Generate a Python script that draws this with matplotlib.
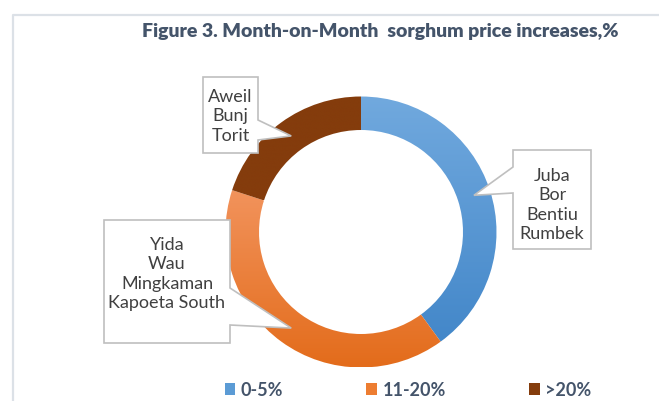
import numpy as np
import matplotlib
matplotlib.use("Agg")
import matplotlib.pyplot as plt
from matplotlib.patches import Polygon, Patch
from matplotlib.lines import Line2D
from matplotlib.colors import LinearSegmentedColormap

# data
categories = ["0-5%", "11-20%", ">20%"]
shares = [40, 40, 20]
markets = [["Juba", "Bor", "Bentiu", "Rumbek"],
           ["Yida", "Wau", "Mingkaman", "Kapoeta South"],
           ["Aweil", "Bunj", "Torit"]]

# top / bottom colours of each slice gradient
grad_colors = [("#71A9DE", "#4387C9"), ("#F2935C", "#E36C1B"), ("#843C0C", "#843C0C")]
legend_colors = ["#5B9BD5", "#ED7D31", "#843C0C"]

W, H = 659, 401
plt.rcParams['font.family'] = ['Lato', 'DejaVu Sans']

fig = plt.figure(figsize=(W / 100, H / 100), dpi=100)
fig.patch.set_facecolor("white")
ax = fig.add_axes([0, 0, 1, 1])
ax.set_xlim(0, W)
ax.set_ylim(0, H)
ax.axis("off")

def fy(y):
    # pixel row (from top) -> axes y
    return H - y

# chart area border (cropped at right and bottom)
ax.add_line(Line2D([12.5, 12.5, W], [0, fy(14.5), fy(14.5)], color="#DCE1E7", lw=1.6))

cx, cy, R = 361, fy(232), 135.5
ring = 33.5
wedges, _ = ax.pie(shares, radius=R, center=(cx, cy), startangle=90, counterclock=False,
                   wedgeprops=dict(width=ring, linewidth=0), frame=True)
ax.set_xlim(0, W)
ax.set_ylim(0, H)
ax.set_aspect("auto")

# vertical gradient on each slice, clipped to the wedge
for w, (c_top, c_bot) in zip(wedges, grad_colors):
    w.set_facecolor("none")
    ext = w.get_path().get_extents()
    cmap = LinearSegmentedColormap.from_list("g", [c_bot, c_top])
    grad = np.linspace(0, 1, 256).reshape(-1, 1)
    im = ax.imshow(grad, cmap=cmap, origin="lower", aspect="auto",
                   extent=(ext.x0, ext.x1, ext.y0, ext.y1), zorder=1)
    im.set_clip_path(w)

# callout boxes: (x0, y0, x1, y1, base0, base1) in pixels from top-left
boxes = [(513, 150, 591, 249, 167, 193),
         (104, 220, 230, 343, 288, 325),
         (203, 77, 258, 153, 120, 140)]
text_cy = [205, 274, 116.5]

for w, names, (x0, y0, x1, y1, b0, b1), tcy in zip(wedges, markets, boxes, text_cy):
    mid = np.deg2rad((w.theta1 + w.theta2) / 2)
    rm = R - ring / 2
    tx, ty = cx + rm * np.cos(mid), cy + rm * np.sin(mid)
    if tx > x1:
        pts = [(x0, y0), (x1, y0), (x1, b0), None, (x1, b1), (x1, y1), (x0, y1)]
    else:
        pts = [(x0, y0), (x1, y0), (x1, y1), (x0, y1), (x0, b1), None, (x0, b0)]
    verts = [(tx, ty) if p is None else (p[0], fy(p[1])) for p in pts]
    ax.add_patch(Polygon(verts, closed=True, facecolor="white", edgecolor="#BFBFBF",
                         lw=1.2, zorder=3))
    ax.text((x0 + x1) / 2, fy(tcy), "\n".join(names), ha="center", va="center",
            fontsize=13, color="#404040", linespacing=1.25, zorder=4)

fig.text(380 / W, 1 - 31.5 / H, "Figure 3. Month-on-Month  sorghum price increases,%",
         ha="center", va="center", fontsize=14, fontweight="heavy", color="#44546A")

handles = [Patch(facecolor=c, edgecolor="none") for c in legend_colors]
leg = fig.legend(handles, categories, loc="center", bbox_to_anchor=(408 / W, 1 - 390 / H),
                 ncol=3, frameon=False, handlelength=0.6, handleheight=0.6,
                 handletextpad=0.3, columnspacing=4.6,
                 prop=dict(size=13, weight="bold"))
for t in leg.get_texts():
    t.set_color("#44546A")

fig.savefig("out.png", dpi=100, facecolor="white")
